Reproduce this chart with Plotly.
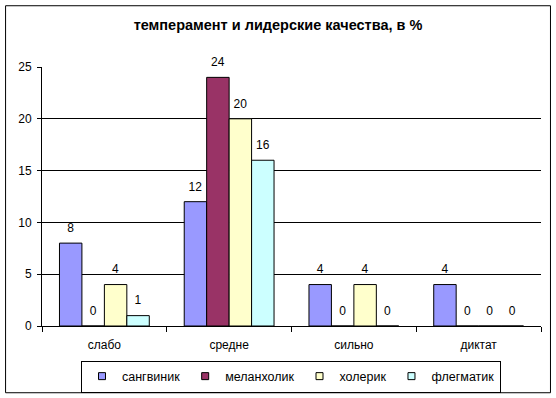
import plotly.graph_objects as go

categories = ["слабо", "средне", "сильно", "диктат"]
series_names = ["сангвиник", "меланхолик", "холерик", "флегматик"]
sangvinik = [8, 12, 4, 4]
melanholik = [0, 24, 0, 0]
holerik = [4, 20, 4, 0]
flegmatik = [1, 16, 0, 0]
colors = ["#9999FF", "#993366", "#FFFFCC", "#CCFFFF"]
y_ticks = [0, 5, 10, 15, 20, 25]
grid_vals = [5, 10, 15, 20]

FONT = "Liberation Sans, Arial, sans-serif"
BAR_W = 0.18            # width of one bar, in category units
LABEL_PAD = 0.5         # gap between bar top and its value label, in axis units

# plot area in pixels
W, H = 556, 398
L, R, T, B = 41.5, 541.5, 66.5, 326.5
PW, PH = R - L, B - T

fig = go.Figure()
all_vals = [sangvinik, melanholik, holerik, flegmatik]
for i, (name, vals, col) in enumerate(zip(series_names, all_vals, colors)):
    off = -2 * BAR_W + i * BAR_W
    fig.add_trace(go.Bar(
        x=categories, y=vals, name=name, offset=off, width=BAR_W,
        marker=dict(color=col, line=dict(color="black", width=1)),
        showlegend=False,
    ))
    # value labels, lifted a little above the bars
    fig.add_trace(go.Bar(
        x=categories, y=[LABEL_PAD] * len(vals), base=vals, offset=off, width=BAR_W,
        marker=dict(color="rgba(0,0,0,0)", line=dict(width=0)),
        text=[str(v) for v in vals], textposition="outside", constraintext="none",
        textfont=dict(size=12, color="black", family=FONT),
        cliponaxis=False, showlegend=False, hoverinfo="skip",
    ))
    # legend entry with a small square symbol
    fig.add_trace(go.Scatter(
        x=[None], y=[None], name=name, mode="markers",
        marker=dict(symbol="square", size=7, color=col, line=dict(color="black", width=1)),
    ))

# invisible trace anchoring the tick axis
fig.add_trace(go.Scatter(x=categories, y=[0] * len(categories), yaxis="y2", mode="markers",
                         marker=dict(opacity=0), showlegend=False, hoverinfo="skip"))

fig.update_layout(
    width=W, height=H,
    paper_bgcolor="white", plot_bgcolor="white",
    margin=dict(l=L, r=W - R, t=T, b=H - B, autoexpand=False),
    font=dict(family=FONT, size=12, color="black"),
    title=dict(text="<b>темперамент и лидерские качества, в %</b>",
               xref="container", x=0.5, xanchor="center",
               yref="container", y=1 - 25 / H, yanchor="middle",
               font=dict(size=14.5, family=FONT, color="black")),
    barmode="overlay",
    showlegend=True,
    legend=dict(orientation="h", xref="container", x=291 / W, xanchor="center",
                yref="container", y=1 - 376.5 / H, yanchor="middle",
                bordercolor="black", borderwidth=1, bgcolor="white",
                font=dict(size=12.5, family=FONT), traceorder="normal",
                itemwidth=30, tracegroupgap=0),
    xaxis=dict(showline=True, linecolor="black", linewidth=1,
               ticks="outside", tickson="boundaries", ticklen=5, tickcolor="black",
               showgrid=False, tickfont=dict(size=12), ticklabelstandoff=8,
               automargin=False),
    yaxis=dict(range=[0, 25], tickvals=grid_vals, showticklabels=False, ticks="",
               showgrid=True, gridcolor="black", gridwidth=1, zeroline=False,
               showline=False, automargin=False),
    yaxis2=dict(range=[0, 25], tickvals=y_ticks, overlaying="y", side="left",
                showgrid=False, zeroline=False, showline=True, linecolor="black",
                linewidth=1, ticks="outside", ticklen=4, tickcolor="black",
                tickfont=dict(size=12), ticklabelstandoff=3, automargin=False),
    shapes=[dict(type="rect", xref="paper", yref="paper",
                 x0=(5 - L) / PW, x1=(551 - L) / PW,
                 y0=-(393.5 - B) / PH, y1=1 + (T - 5) / PH,
                 line=dict(color="black", width=1), fillcolor="rgba(0,0,0,0)",
                 layer="below")],
)

fig.write_html("out.html", config={"displayModeBar": False},
               post_script="document.body.style.margin='0px';")
